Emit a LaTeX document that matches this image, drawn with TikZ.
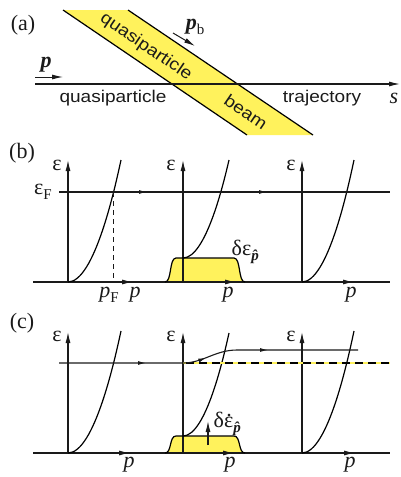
\documentclass[tikz,border=0pt]{standalone}
\usepackage{fontspec}
\setmainfont{Liberation Serif}
\newfontfamily\sansf{Liberation Sans}[FakeStretch=1.12]
\usetikzlibrary{arrows.meta,decorations.markings}
\definecolor{beamyellow}{HTML}{FFF25C}
\definecolor{axgray}{HTML}{1A1A1A}
\newcommand\lowsub[1]{\raisebox{-0.45ex}{\fontsize{15}{15}\selectfont #1}}
\newcommand\bip{\textbf{\textit{p}}}
\newcommand\hatp{\textbf{\textit{p̂}}}
\newcommand\epsdot{\makebox[0pt][l]{\hspace{0.1em}\raisebox{0.5em}{.}}ε}
\newcommand\bumpfill[2]{\fill[beamyellow] (165,#1) .. controls (172,#1) and (169,#2) .. (176,#2) -- (234,#2) .. controls (241,#2) and (238,#1) .. (245,#1) -- cycle;}
\newcommand\bumpline[2]{\draw[curve] (165,#1) .. controls (172,#1) and (169,#2) .. (176,#2) -- (234,#2) .. controls (241,#2) and (238,#1) .. (245,#1);}
\begin{document}
\begin{tikzpicture}[x=1pt,y=-1pt,
  serif/.style={font=\fontsize{22}{25}\selectfont, inner sep=0pt, text=axgray},
  sans/.style={font=\sansf\fontsize{17}{20}\selectfont, inner sep=0pt, text=axgray},
  axis/.style={line width=1.1pt, draw=axgray, -{Latex[length=11pt,width=5pt]}},
  plain/.style={line width=1.1pt, draw=axgray},
  curve/.style={line width=1.2pt, draw=black},
  midtip/.style={decoration={markings, #1}, postaction={decorate}},
]
\useasboundingbox (0,0) rectangle (401,477);
\tikzset{tip/.tip={Latex[length=8pt,width=4pt]}}

% ---------------- (a)
\node[serif] (la) at (23,25) {(a)};
\fill[beamyellow] (63,10) -- (128,10) -- (313,135) -- (247,135) -- cycle;
\draw[curve] (63,10) -- (247,135);
\draw[curve] (128,10) -- (313,135);
\node[sans, rotate=-34.2] (tq) at (146,47) {quasiparticle};
\node[sans, rotate=-34.2] (tb) at (246,112) {beam};
\draw[axis] (35,84) -- (400,84);
\node[serif] (ls) at (394,98) {\textit{s}};
\node[sans] (tq2) at (113,98) {quasiparticle};
\node[sans] (tt) at (322,98) {trajectory};
\coordinate (pa1) at (35,77);
\coordinate (pa2) at (63,77);
\draw[axis, line width=1pt] (pa1) -- (pa2);
\node[serif] (lp) at (46,65) {\bip};
\coordinate (pb1) at (173,33);
\coordinate (pb2) at (195,46);
\draw[axis, line width=1pt] (pb1) -- (pb2);
\node[serif] (lpb) at (195,27) {\bip\lowsub{b}};

% ---------------- (b)
\node[serif] (lb) at (22,153) {(b)};
\bumpfill{282}{258}
\draw[plain] (33,282) -- (390,282);
\draw[axis] (68,282) -- (133,282);
\draw[axis] (183,282) -- (236,282);
\draw[axis] (302,282) -- (354,282);
\draw[axis] (68,282) -- (68,160);
\draw[axis] (183,282) -- (183,160);
\draw[axis] (302,282) -- (302,160);
\node[serif] (e1) at (57,165) {ε};
\node[serif] (e2) at (171,165) {ε};
\node[serif] (e3) at (291,165) {ε};
\draw[curve] (68,282) parabola (121,160);
\draw[curve] (183,258) parabola (229,160);
\draw[curve] (302,282) parabola (354,160);
\bumpline{282}{258}
\draw[plain, midtip={mark=at position 88pt with {\arrow{tip}}, mark=at position 208pt with {\arrow{tip}}}] (59,192) -- (390,192);
\node[serif] (eF) at (43,192) {ε\lowsub{F}};
\draw[plain, line width=0.7pt, dash pattern=on 5pt off 4pt] (113.5,192) -- (113.5,282);
\node[serif] (pF) at (109,295) {\textit{p}\lowsub{F}};
\node[serif] (pb1l) at (135,295) {\textit{p}};
\node[serif] (pb2l) at (228,295) {\textit{p}};
\node[serif] (pb3l) at (351,295) {\textit{p}};
\node[serif] (de) at (247,252) {δε\lowsub{\hatp}};

% ---------------- (c)
\node[serif] (lc) at (22,323) {(c)};
\bumpfill{453}{436}
\draw[plain] (33,453) -- (390,453);
\draw[axis] (68,453) -- (130,453);
\draw[axis] (183,453) -- (234,453);
\draw[axis] (302,453) -- (355,453);
\draw[axis] (68,453) -- (68,332);
\draw[axis] (183,453) -- (183,332);
\draw[axis] (302,453) -- (302,332);
\node[serif] (c1) at (57,336) {ε};
\node[serif] (c2) at (171,336) {ε};
\node[serif] (c3) at (291,336) {ε};
\draw[curve] (68,453) parabola (121,331);
\draw[curve] (183,436) parabola (229,333);
\draw[curve] (302,453) parabola (354,331);
\bumpline{453}{436}
\draw[beamyellow, line width=1.1pt] (183,363) -- (390,363);
\draw[black, line width=1.1pt, dash pattern=on 8pt off 5pt] (186,363) -- (390,363);
\draw[plain, midtip={mark=at position 87pt with {\arrow{tip}}, mark=at position 148pt with {\arrow{tip}}, mark=at position 211pt with {\arrow{tip}}}] (59,363) -- (183,363) .. controls (203,363) and (215,350) .. (237,350) -- (358,350);
\coordinate (u1) at (208,445);
\coordinate (u2) at (208,421);
\draw[axis] (u1) -- (u2);
\node[serif] (dd) at (229,424) {δ\epsdot\lowsub{\hatp}};
\node[serif] (pc1) at (129,465) {\textit{p}};
\node[serif] (pc2) at (230,465) {\textit{p}};
\node[serif] (pc3) at (350,465) {\textit{p}};
\end{tikzpicture}
\end{document}
